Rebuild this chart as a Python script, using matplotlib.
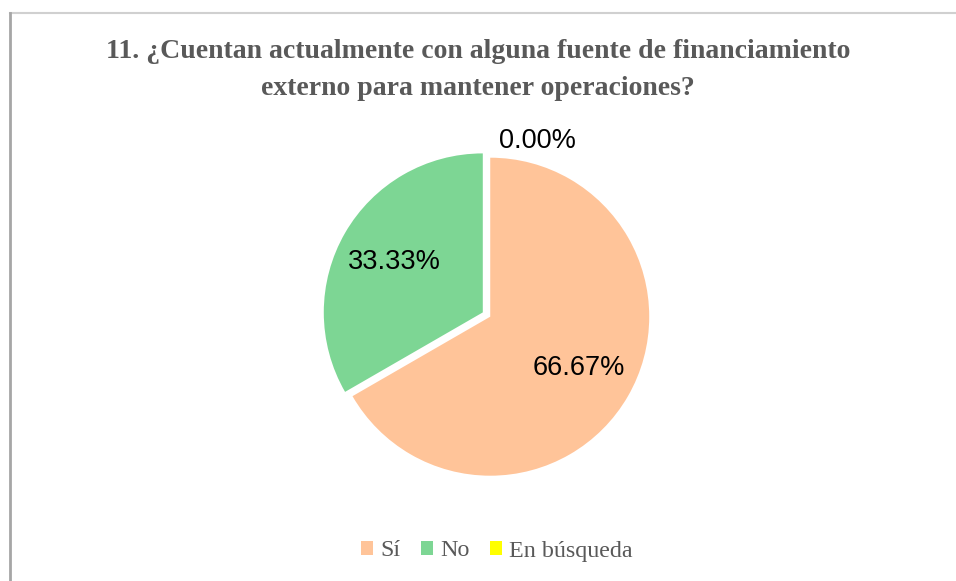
import matplotlib.pyplot as plt
from matplotlib.lines import Line2D
from matplotlib.patches import Patch

title = '11. ¿Cuentan actualmente con alguna fuente de financiamiento\nexterno para mantener operaciones?'
categories = ['Sí', 'No', 'En búsqueda']
values = [66.67, 33.33, 0.0]
colors = ['#FFC499', '#7DD694', '#FFFF00']

fig = plt.figure(figsize=(9.56, 5.81), dpi=100)

# frame lines of the original chart area (top and left only)
fig.add_artist(Line2D([10/956, 1], [1 - 13/581, 1 - 13/581], color='#D0D0D0', lw=1.5))
fig.add_artist(Line2D([10/956, 10/956], [0, 1 - 13/581], color='#A6A6A6', lw=2))

fig.text(0.5, 1 - 70/581, title, ha='center', va='center', family='Liberation Serif',
         fontweight='bold', fontsize=20, color='#595959', linespacing=1.6)

ax = fig.add_axes([0.3093, 0.1302, 0.3992, 0.6568])
wedges, texts, autotexts = ax.pie(values, colors=colors, startangle=90, counterclock=False,
                                  explode=[0.027, 0.027, 0.027], autopct='%.2f%%',
                                  pctdistance=0.64, radius=1.0,
                                  wedgeprops=dict(linewidth=0),
                                  textprops=dict(family='Liberation Sans', fontsize=19.5, color='black'))
# zero slice label sits outside, above the pie
autotexts[2].set_position((0.32, 1.09))
ax.set_xlim(-1.2, 1.2)
ax.set_ylim(-1.2, 1.2)
ax.set_aspect('equal')
ax.axis('off')

handles = [Patch(facecolor=c, edgecolor='none') for c in colors]
fig.legend(handles, categories, loc='center', bbox_to_anchor=(497/956, 1 - 551/581), ncol=3,
           frameon=False, handlelength=0.5, handleheight=0.5, handletextpad=0.3,
           columnspacing=0.85, prop=dict(family='Liberation Serif', size=17.3),
           labelcolor='#595959')

fig.savefig('out.png', dpi=100)
